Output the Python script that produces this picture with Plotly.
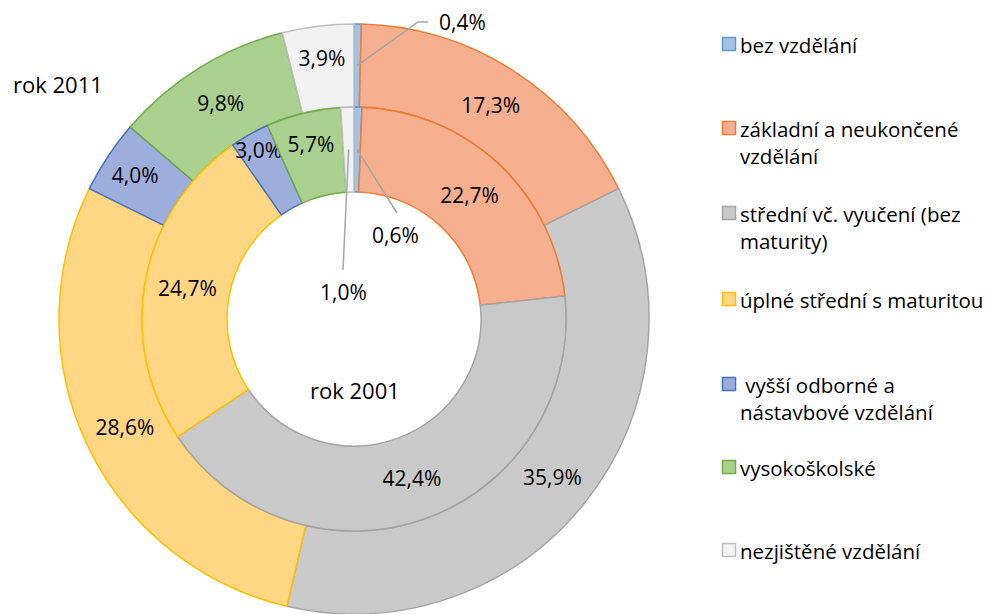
import math
import plotly.graph_objects as go

labels = ['bez vzdělání', 'základní a neukončené vzdělání', 'střední vč. vyučení (bez maturity)',
          'úplné střední s maturitou', 'vyšší odborné a nástavbové vzdělání', 'vysokoškolské',
          'nezjištěné vzdělání']
legend_labels = ['bez vzdělání', 'základní a neukončené<br>vzdělání', 'střední vč. vyučení (bez<br>maturity)',
                 'úplné střední s maturitou', ' vyšší odborné a<br>nástavbové vzdělání', 'vysokoškolské',
                 'nezjištěné vzdělání']
values_2011 = [0.4, 17.3, 35.9, 28.6, 4.0, 9.8, 3.9]
values_2001 = [0.6, 22.7, 42.4, 24.7, 3.0, 5.7, 1.0]
fill_colors = ['#A4C2E5', '#F5AF8F', '#C9C9C9', '#FFD684', '#9DAEDC', '#A9D08E', '#F2F2F2']
line_colors = ['#5B9BD5', '#ED7D31', '#A5A5A5', '#FFC000', '#4472C4', '#70AD47', '#BFBFBF']

W, H = 991, 614
OFF = 8                    # the page body margin moves the figure by 8px
CX, CY = 354, 319          # centre of the rings on screen
R_OUT, R_MID, R_IN = 295, 212, 127
FONT = 'Open Sans'
FS = 21


def pct(v):
    return ('%.1f' % v).replace('.', ',') + '%'


def px(x, y):
    # screen pixel -> paper coords
    return (x - OFF) / W, 1 - (y - OFF) / H


def domain(r):
    x0, y1 = px(CX - r, CY - r)
    x1, y0 = px(CX + r, CY + r)
    return dict(x=[max(0, x0), min(1, x1)], y=[max(0, y0), min(1, y1)])


def mid_point(values, i, r):
    # middle of slice i (clockwise from 12 o'clock) at radius r
    tot = sum(values)
    a = (sum(values[:i]) + values[i] / 2) / tot * 2 * math.pi
    return px(CX + r * math.sin(a), CY - r * math.cos(a))


def ring(values, r_out, r_in, name):
    return go.Pie(
        labels=labels, values=values, name=name,
        sort=False, direction='clockwise', rotation=0,
        hole=r_in / r_out, domain=domain(r_out),
        text=[pct(v) if v > 1 else '' for v in values],
        textinfo='text', textposition='inside', insidetextorientation='horizontal',
        insidetextfont=dict(family=FONT, size=FS, color='#000000'),
        marker=dict(colors=fill_colors, line=dict(color=line_colors, width=1.5)),
        hovertemplate='%{label}<br>%{value}%<extra>' + name + '</extra>',
    )


fig = go.Figure()
fig.add_trace(ring(values_2011, R_OUT, R_MID, 'rok 2011'))
fig.add_trace(ring(values_2001, R_MID, R_IN, 'rok 2001'))

shapes = []
annotations = []

# small slices get a leader line: (values, slice, ring mid radius, bend points, text position, anchor)
leaders = [
    (values_2011, 0, (R_OUT + R_MID) / 2, [(418, 22), (428, 22)], (437, 22), 'left'),
    (values_2001, 0, (R_MID + R_IN) / 2, [(397, 213)], (395, 235), 'center'),
    (values_2001, 6, (R_MID + R_IN) / 2, [(343, 270)], (343, 292), 'center'),
]
for vals, i, rm, bends, tpos, anchor in leaders:
    x0, y0 = mid_point(vals, i, rm)
    path = 'M %f %f' % (x0, y0)
    for bx, by in bends:
        path += ' L %f %f' % px(bx, by)
    shapes.append(dict(type='path', path=path, xref='paper', yref='paper',
                       line=dict(color='#A6A6A6', width=1.5)))
    tx, ty = px(*tpos)
    annotations.append(dict(x=tx, y=ty, xref='paper', yref='paper', text=pct(vals[i]),
                            showarrow=False, xanchor=anchor, yanchor='middle',
                            font=dict(family=FONT, size=FS, color='#000000')))

# ring titles
for text, (x, y) in [('rok 2011', (58, 84)), ('rok 2001', (355, 390))]:
    tx, ty = px(x, y)
    annotations.append(dict(x=tx, y=ty, xref='paper', yref='paper', text=text, showarrow=False,
                            xanchor='center', yanchor='middle',
                            font=dict(family=FONT, size=22, color='#000000')))

# legend on the right
legend_y = [44, 128, 213, 299, 384, 467, 550]
for lab, fc, lc, y in zip(legend_labels, fill_colors, line_colors, legend_y):
    x0, y0 = px(722.5, y + 6.5)
    x1, y1 = px(735.5, y - 6.5)
    shapes.append(dict(type='rect', xref='paper', yref='paper', x0=x0, x1=x1, y0=y0, y1=y1,
                       fillcolor=fc, line=dict(color=lc, width=1.5)))
    tx, ty = px(738, y - 15)
    annotations.append(dict(x=tx, y=ty, xref='paper', yref='paper', text=lab, showarrow=False,
                            xanchor='left', yanchor='top', align='left',
                            font=dict(family=FONT, size=20.5, color='#000000')))

fig.update_layout(
    width=W, height=H,
    margin=dict(l=0, r=0, t=0, b=0),
    paper_bgcolor='white', plot_bgcolor='white',
    showlegend=False,
    uniformtext=dict(minsize=FS, mode='show'),
    shapes=shapes, annotations=annotations,
    font=dict(family=FONT, size=FS, color='#000000'),
)

fig.write_html('out.html')
